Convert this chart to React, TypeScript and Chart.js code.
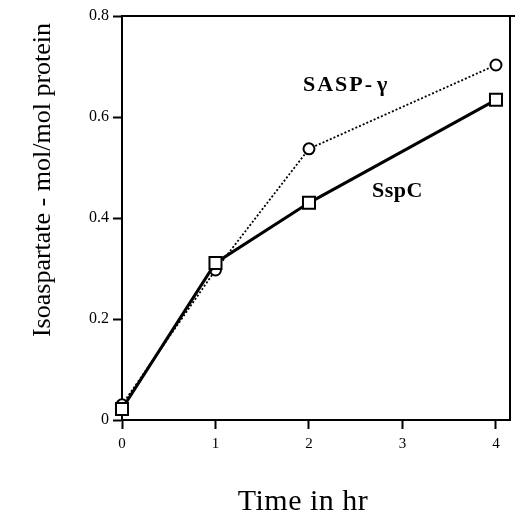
import React, { useEffect, useRef } from "react";
import { Chart, registerables } from "chart.js";

Chart.register(...registerables);

const timeHr = [0, 1, 2, 4];
const saspGamma = [0.03, 0.297, 0.537, 0.703];
const sspC = [0.022, 0.311, 0.43, 0.634];
const xTicks = [0, 1, 2, 3, 4];
const yTicks = [0, 0.2, 0.4, 0.6, 0.8];
const xTitle = "Time in hr";
const yTitle = "Isoaspartate - mol/mol protein";
const labelSaspMain = "SASP-";
const labelSaspGreek = "γ";
const labelSspC = "SspC";

const SERIF = "'Liberation Serif', 'Times New Roman', serif";

const framePlugin = {
  id: "frame",
  afterDraw(chart: any) {
    const { ctx, chartArea } = chart;
    const { left, right, top, bottom } = chartArea;
    ctx.save();
    ctx.strokeStyle = "#000";
    ctx.lineWidth = 2;
    ctx.beginPath();
    ctx.moveTo(left, top);
    ctx.lineTo(chart.width, top);
    ctx.moveTo(right, top);
    ctx.lineTo(right, bottom);
    ctx.stroke();

    ctx.fillStyle = "#000";
    ctx.font = `bold 22px ${SERIF}`;
    ctx.textAlign = "left";
    ctx.textBaseline = "alphabetic";
    (ctx as any).letterSpacing = "2px";
    ctx.fillText(labelSaspMain, left + 181, top + 75);
    (ctx as any).letterSpacing = "0px";
    ctx.fillText(labelSaspGreek, left + 255, top + 75);
    (ctx as any).letterSpacing = "0.5px";
    ctx.fillText(labelSspC, left + 250, top + 181);

    ctx.font = `30px ${SERIF}`;
    (ctx as any).letterSpacing = "0.5px";
    ctx.textAlign = "center";
    ctx.fillText(xTitle, left + 181, bottom + 90);
    (ctx as any).letterSpacing = "0px";

    ctx.save();
    ctx.translate(50, top + 164);
    ctx.rotate(-Math.PI / 2);
    ctx.font = `26px ${SERIF}`;
    ctx.textAlign = "center";
    ctx.textBaseline = "alphabetic";
    ctx.fillText(yTitle, 0, 0);
    ctx.restore();
    ctx.restore();
  },
};

export default function App() {
  const canvasRef = useRef<HTMLCanvasElement | null>(null);

  useEffect(() => {
    document.body.style.margin = "0";
    const canvas = canvasRef.current;
    if (!canvas) return;
    const chart = new Chart(canvas, {
      type: "line",
      data: {
        datasets: [
          {
            label: "SspC",
            data: timeHr.map((x, i) => ({ x, y: sspC[i] })),
            borderColor: "#000",
            borderWidth: 3,
            pointStyle: "rect",
            pointRadius: 8.5,
            pointBorderWidth: 2,
            pointBackgroundColor: "#fff",
            pointBorderColor: "#000",
            tension: 0,
            clip: false,
          },
          {
            label: "SASP-γ",
            data: timeHr.map((x, i) => ({ x, y: saspGamma[i] })),
            borderColor: "#000",
            borderWidth: 1.8,
            borderDash: [2, 2],
            pointStyle: "circle",
            pointRadius: 5.5,
            pointBorderWidth: 2,
            pointBackgroundColor: "#fff",
            pointBorderColor: "#000",
            tension: 0,
            clip: false,
          },
        ],
      },
      options: {
        animation: false,
        responsive: false,
        maintainAspectRatio: false,
        layout: { autoPadding: false, padding: { top: 16, right: 5, left: 0, bottom: 0 } },
        plugins: {
          legend: { display: false },
          tooltip: { enabled: false },
          title: { display: false },
        },
        scales: {
          x: {
            type: "linear",
            min: 0,
            max: 4.15,
            afterBuildTicks: (scale: any) => {
              scale.ticks = xTicks.map((v) => ({ value: v }));
            },
            afterFit: (scale: any) => {
              scale.height = 91;
              scale.paddingLeft = 0;
              scale.paddingRight = 0;
            },
            grid: {
              drawOnChartArea: false,
              drawTicks: true,
              tickLength: 9,
              tickColor: "#000",
              tickWidth: 2,
            },
            border: { display: true, color: "#000", width: 2 },
            ticks: {
              color: "#000",
              font: { family: SERIF, size: 15 },
              padding: 6,
              maxRotation: 0,
              callback: (v: any) => String(v),
            },
          },
          y: {
            type: "linear",
            min: 0,
            max: 0.8,
            afterBuildTicks: (scale: any) => {
              scale.ticks = yTicks.map((v) => ({ value: v }));
            },
            afterFit: (scale: any) => {
              scale.width = 122;
              scale.paddingTop = 0;
              scale.paddingBottom = 0;
            },
            grid: {
              drawOnChartArea: false,
              drawTicks: true,
              tickLength: 9,
              tickColor: "#000",
              tickWidth: 2,
            },
            border: { display: true, color: "#000", width: 2 },
            ticks: {
              color: "#000",
              font: { family: SERIF, size: 16 },
              padding: 4,
              callback: (v: any) => String(Math.round(v * 10) / 10),
            },
          },
        },
      },
      plugins: [framePlugin],
    });
    return () => chart.destroy();
  }, []);

  return (
    <div style={{ position: "absolute", left: 0, top: 0, width: 515, height: 511, background: "#fff" }}>
      <canvas ref={canvasRef} width={515} height={511} style={{ width: 515, height: 511, display: "block" }} />
    </div>
  );
}
